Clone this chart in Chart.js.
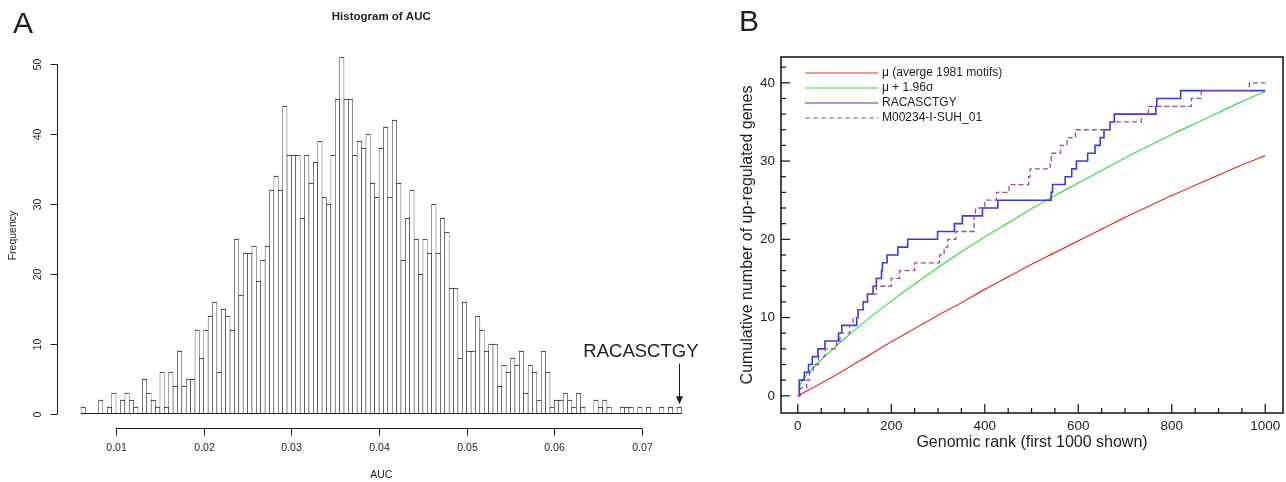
<!DOCTYPE html>
<html>
<head>
<meta charset="utf-8">
<script src="https://cdn.jsdelivr.net/npm/chart.js@4.4.1/dist/chart.umd.min.js"></script>
<style>
  html, body { margin: 0; padding: 0; background: #fff; }
  #wrap { position: relative; width: 1286px; height: 482px; overflow: hidden; }
  #panelA { position: absolute; left: 0; top: 0; }
  #panelB { position: absolute; left: 720px; top: 0; }
</style>
</head>
<body>
<div id="wrap">
  <canvas id="panelA" width="720" height="482"></canvas>
  <canvas id="panelB" width="566" height="482"></canvas>
</div>
<script>
// ---------- Panel A: histogram of AUC (bins of 0.0005 starting at 0.006) ----------
const binStart = 0.006;
const binWidth = 0.0005;
const aucFreq = [
  1, 0, 0, 0, 2, 0, 1, 3, 0, 2,
  3, 2, 1, 0, 5, 3, 2, 1, 6, 1,
  6, 4, 9, 4, 5, 5, 12, 8, 12, 14,
  16, 6, 15, 14, 12, 25, 17, 23, 23, 24,
  19, 22, 24, 32, 34, 32, 44, 37, 37, 37,
  28, 37, 33, 36, 39, 31, 30, 37, 45, 51,
  45, 45, 37, 39, 38, 40, 33, 31, 38, 41,
  31, 42, 33, 22, 28, 32, 25, 20, 25, 23,
  30, 23, 28, 26, 18, 18, 8, 16, 9, 9,
  14, 12, 9, 10, 10, 4, 7, 6, 8, 7,
  9, 3, 7, 6, 2, 9, 6, 1, 2, 2,
  3, 2, 1, 3, 1, 0, 0, 2, 1, 2,
  1, 0, 0, 1, 1, 1, 0, 1, 0, 1,
  0, 0, 1, 0, 1, 0, 1
];
const aucTicks = [0.01, 0.02, 0.03, 0.04, 0.05, 0.06, 0.07];
const freqTicks = [0, 10, 20, 30, 40, 50];
const markName = 'RACASCTGY';
const markAuc = 0.07425;

// ---------- Panel B: cumulative up-regulated genes vs genomic rank ----------
const meanRank = [0, 50, 100, 150, 200, 250, 300, 350, 400, 450, 500, 550, 600, 650, 700, 750, 800, 850, 900, 950, 1000];
const meanVal  = [0, 1.6, 3.3, 5.1, 6.9, 8.6, 10.3, 11.9, 13.6, 15.2, 16.8, 18.3, 19.8, 21.3, 22.8, 24.2, 25.6, 26.9, 28.2, 29.5, 30.7];
const upperRank = [1, 10, 25, 50, 75, 100, 150, 200, 250, 300, 350, 400, 450, 500, 550, 600, 650, 700, 750, 800, 850, 900, 950, 1000];
const upperVal  = [0.9, 2.0, 3.1, 4.6, 6.0, 7.3, 9.8, 12.1, 14.3, 16.4, 18.4, 20.3, 22.1, 23.9, 25.6, 27.2, 28.8, 30.4, 31.9, 33.4, 34.8, 36.2, 37.6, 38.9];
// step functions: rank at which the count changes, and the new count
const racRank = [0, 3, 14, 23, 31, 43, 58, 87, 94, 126, 129, 140, 149, 161, 168, 179, 181, 191, 214, 235, 299, 335, 352, 395, 428,
                 542, 545, 572, 586, 596, 620, 636, 647, 655, 668, 677, 766, 768, 819, 1000];
const racVal  = [0, 2, 3, 4, 5, 6, 7, 8, 9, 10, 11, 12, 13, 14, 15, 16, 17, 18, 19, 20, 21, 22, 23, 24, 25,
                 26, 27, 28, 29, 30, 31, 32, 33, 34, 35, 36, 37, 38, 39, 39];
const suhRank = [0, 5, 19, 25, 33, 44, 58, 83, 90, 111, 118, 129, 140, 149, 168, 200, 218, 250, 303, 313, 321, 338, 377, 380, 400,
                 425, 452, 494, 497, 540, 542, 562, 576, 594, 668, 735, 750, 842, 863, 966, 1000];
const suhVal  = [0, 1, 2, 3, 4, 5, 6, 7, 8, 9, 10, 11, 12, 13, 14, 15, 16, 17, 18, 19, 20, 21, 23, 24, 25,
                 26, 27, 28, 29, 30, 31, 32, 33, 34, 35, 36, 37, 38, 39, 40, 40];
const seriesNames = ['\u03bc (averge 1981 motifs)', '\u03bc + 1.96\u03c3', 'RACASCTGY', 'M00234-I-SUH_01'];
const rankTicks = [0, 200, 400, 600, 800, 1000];
const rankMinor = [50, 100, 150, 250, 300, 350, 450, 500, 550, 650, 700, 750, 850, 900, 950];
const countTicks = [0, 10, 20, 30, 40];
const countMinor = [2, 4, 6, 8, 12, 14, 16, 18, 22, 24, 26, 28, 32, 34, 36, 38, 42];

const FONT = "'Liberation Sans', Arial, Helvetica, sans-serif";
const INK = '#1e1e1e';

function seg(ctx, x1, y1, x2, y2) {
  ctx.beginPath(); ctx.moveTo(x1, y1); ctx.lineTo(x2, y2); ctx.stroke();
}

// R-style axes and labels for the histogram
const histDecor = {
  id: 'histDecor',
  afterDraw(chart) {
    const { ctx, chartArea: ca, scales: { x, y } } = chart;
    ctx.save();
    ctx.strokeStyle = INK; ctx.fillStyle = INK; ctx.lineWidth = 1;

    // empty bins still show as a line on the baseline
    const y0 = Math.round(y.getPixelForValue(0)) - 0.5;
    seg(ctx, x.getPixelForValue(binStart), y0, x.getPixelForValue(binStart + aucFreq.length * binWidth), y0);

    // x axis
    const ax = Math.round(ca.bottom) + 0.5;
    seg(ctx, x.getPixelForValue(aucTicks[0]), ax, x.getPixelForValue(aucTicks[aucTicks.length - 1]), ax);
    ctx.font = '10.5px ' + FONT; ctx.textAlign = 'center'; ctx.textBaseline = 'middle';
    aucTicks.forEach(v => {
      const px = Math.round(x.getPixelForValue(v)) + 0.5;
      seg(ctx, px, ax, px, ax + 7);
      ctx.fillText(v.toFixed(2), px, ax + 20);
    });

    // y axis
    const ay = Math.round(ca.left) + 0.5;
    seg(ctx, ay, y.getPixelForValue(freqTicks[0]), ay, y.getPixelForValue(freqTicks[freqTicks.length - 1]));
    freqTicks.forEach(v => {
      const py = Math.round(y.getPixelForValue(v)) + 0.5;
      seg(ctx, ay, py, ay - 7, py);
      ctx.save(); ctx.translate(ay - 19, py); ctx.rotate(-Math.PI / 2);
      ctx.fillText(String(v), 0, 0); ctx.restore();
    });

    // titles
    const midX = (ca.left + ca.right) / 2, midY = (ca.top + ca.bottom) / 2;
    ctx.fillText('AUC', midX, 475);
    ctx.save(); ctx.translate(13, midY); ctx.rotate(-Math.PI / 2);
    ctx.fillText('Frequency', 0, 0); ctx.restore();
    ctx.font = 'bold 11.5px ' + FONT;
    ctx.fillText('Histogram of AUC', midX, 17);
    ctx.font = '30px ' + FONT;
    ctx.fillText('A', 23, 25);

    // marked motif
    const mx = Math.round(x.getPixelForValue(markAuc)) + 0.5;
    ctx.font = '18.5px ' + FONT; ctx.textAlign = 'right'; ctx.textBaseline = 'alphabetic';
    ctx.fillText(markName, mx + 19, y.getPixelForValue(8.1));
    const top = y.getPixelForValue(7.2), tip = y.getPixelForValue(1.4);
    seg(ctx, mx, top, mx, tip - 6);
    ctx.beginPath(); ctx.moveTo(mx - 3.5, tip - 8); ctx.lineTo(mx + 3.5, tip - 8); ctx.lineTo(mx, tip); ctx.closePath(); ctx.fill();
    ctx.restore();
  }
};

new Chart(document.getElementById('panelA'), {
  type: 'bar',
  data: {
    datasets: [{
      data: aucFreq.map((f, i) => ({ x: binStart + (i + 0.5) * binWidth, y: f })),
      backgroundColor: '#ffffff',
      borderColor: '#202020',
      borderWidth: { left: 0.6, right: 0.6, top: 1, bottom: 0 },
      borderSkipped: false,
      barPercentage: 1,
      categoryPercentage: 1
    }]
  },
  options: {
    responsive: false, animation: false, devicePixelRatio: 1,
    layout: { padding: { left: 57, right: 14.5, top: 42.7, bottom: 53.7 } },
    scales: {
      x: { type: 'linear', min: 0.00326, max: 0.07724, offset: false, display: false },
      y: { min: -2.04, max: 53.04, display: false }
    },
    plugins: { legend: { display: false }, tooltip: { enabled: false } }
  },
  plugins: [histDecor]
});

// boxed axes with inward ticks and a plain legend for panel B
const rankDecor = {
  id: 'rankDecor',
  afterDraw(chart) {
    const { ctx, chartArea: ca, scales: { x, y } } = chart;
    ctx.save();
    ctx.strokeStyle = '#111'; ctx.fillStyle = INK;
    ctx.lineWidth = 1.5;
    ctx.strokeRect(ca.left, ca.top, ca.right - ca.left, ca.bottom - ca.top);
    ctx.lineWidth = 1.2;
    rankTicks.forEach(v => seg(ctx, x.getPixelForValue(v), ca.bottom, x.getPixelForValue(v), ca.bottom - 9));
    rankMinor.forEach(v => seg(ctx, x.getPixelForValue(v), ca.bottom, x.getPixelForValue(v), ca.bottom - 5));
    countTicks.forEach(v => seg(ctx, ca.left, y.getPixelForValue(v), ca.left + 9, y.getPixelForValue(v)));
    countMinor.forEach(v => seg(ctx, ca.left, y.getPixelForValue(v), ca.left + 5, y.getPixelForValue(v)));

    ctx.font = '13.5px ' + FONT; ctx.textBaseline = 'middle';
    ctx.textAlign = 'center';
    rankTicks.forEach(v => ctx.fillText(String(v), x.getPixelForValue(v), ca.bottom + 13));
    ctx.textAlign = 'right';
    countTicks.forEach(v => ctx.fillText(String(v), ca.left - 6, y.getPixelForValue(v)));

    ctx.font = '16px ' + FONT; ctx.textAlign = 'center';
    ctx.fillText('Genomic rank (first 1000 shown)', (ca.left + ca.right) / 2, 443);
    ctx.save(); ctx.translate(28, (ca.top + ca.bottom) / 2); ctx.rotate(-Math.PI / 2);
    ctx.fillText('Cumulative number of up-regulated genes', 0, 0); ctx.restore();
    ctx.font = '30px ' + FONT;
    ctx.fillText('B', 29, 23);

    // legend
    ctx.font = '12px ' + FONT; ctx.textAlign = 'left';
    chart.data.datasets.forEach((ds, i) => {
      const ly = 73 + i * 15;
      ctx.strokeStyle = ds.borderColor; ctx.lineWidth = 1.2;
      ctx.setLineDash(ds.borderDash || []);
      seg(ctx, ca.left + 24, ly, ca.left + 97, ly);
      ctx.setLineDash([]);
      ctx.fillText(ds.label, ca.left + 101, ly);
    });
    ctx.restore();
  }
};

const pts = (xs, ys) => xs.map((r, i) => ({ x: r, y: ys[i] }));

new Chart(document.getElementById('panelB'), {
  type: 'line',
  data: {
    datasets: [
      { label: seriesNames[0], data: pts(meanRank, meanVal), borderColor: '#e5322d', borderWidth: 1.2,
        pointRadius: 0, cubicInterpolationMode: 'monotone', order: 3 },
      { label: seriesNames[1], data: pts(upperRank, upperVal), borderColor: '#3ad948', borderWidth: 1.2,
        pointRadius: 0, cubicInterpolationMode: 'monotone', order: 2 },
      { label: seriesNames[2], data: pts(racRank, racVal), borderColor: '#3b3bdc', borderWidth: 1.6,
        pointRadius: 0, stepped: true, order: 1 },
      { label: seriesNames[3], data: pts(suhRank, suhVal), borderColor: '#9c4c9c', borderWidth: 1.3,
        borderDash: [5, 3], pointRadius: 0, stepped: true, order: 0 }
    ]
  },
  options: {
    responsive: false, animation: false, devicePixelRatio: 1,
    layout: { padding: { left: 61, right: 3, top: 57, bottom: 69 } },
    scales: {
      x: { type: 'linear', min: -36, max: 1038, display: false },
      y: { min: -2.2, max: 43.3, display: false }
    },
    plugins: { legend: { display: false }, tooltip: { enabled: false } }
  },
  plugins: [rankDecor]
});
</script>
</body>
</html>
